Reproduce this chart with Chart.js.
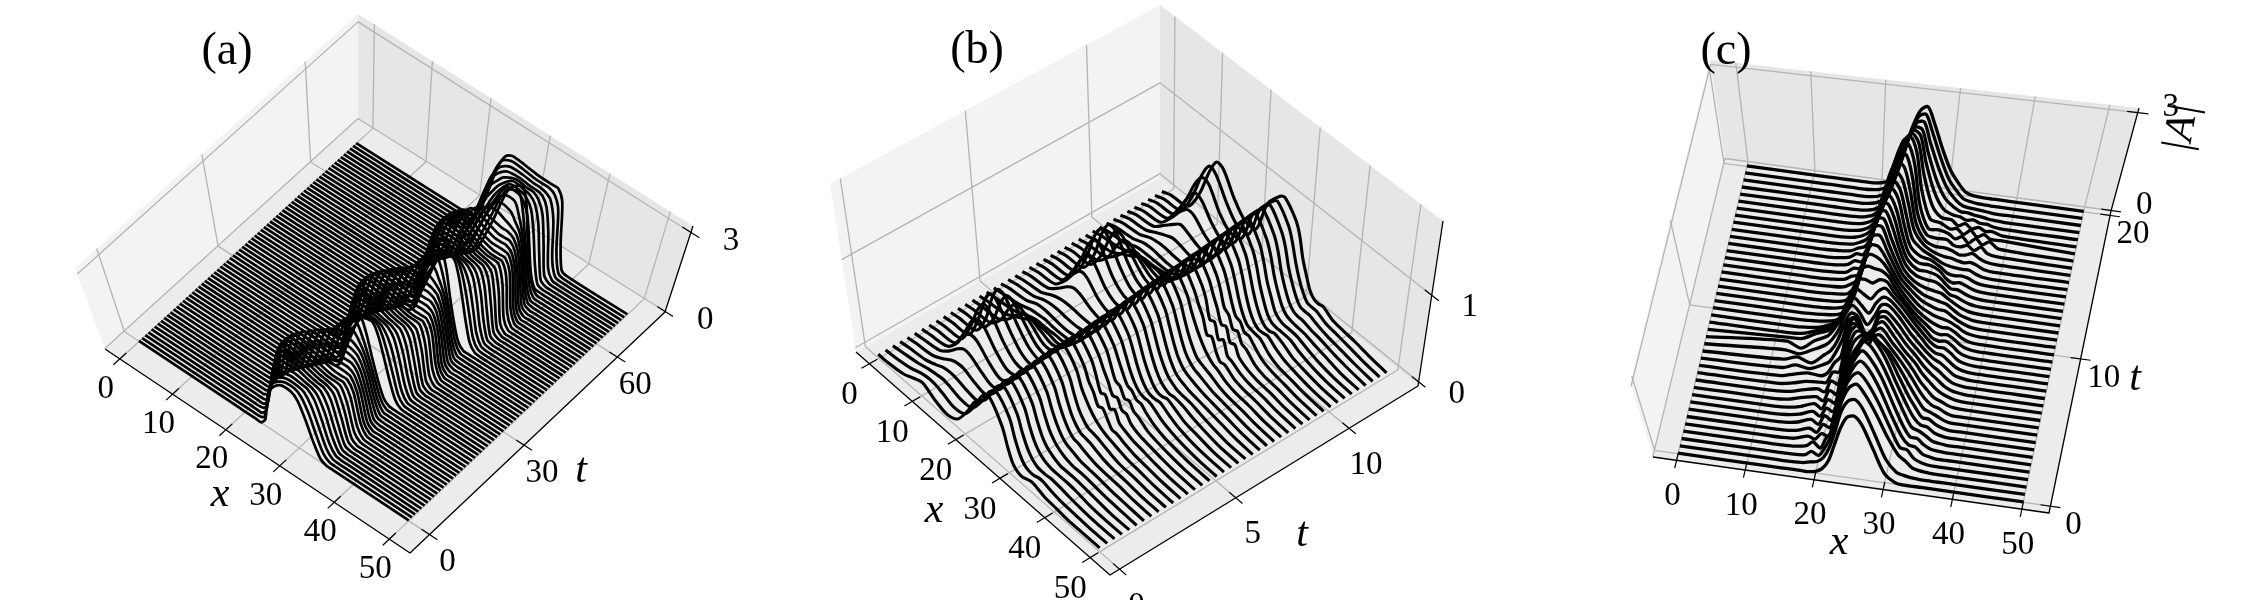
<!DOCTYPE html>
<html><head><meta charset="utf-8">
<style>html,body{margin:0;padding:0;background:#fff}canvas{display:block}</style>
<script src="https://cdn.jsdelivr.net/npm/chart.js@4/dist/chart.umd.min.js"></script>
</head><body><canvas id="c" width="2250" height="600"></canvas>
<script>
// Panel (a): |A| against x on per-period grids, one row per unit of t
const aGrid1=[19,20,21,22,23,24,25,26,28,30,31,32,33,34,35,36,37];
const aRows1=[
[0,0,0,0,0,.3,1.3,1.95,2.5,2.55,2.3,1.6,.75,.15,0,0,0],
[0,0,0,0,.1,.7,1.6,2.1,2.5,2.55,2.35,1.8,.95,.25,.02,0,0],
[0,0,0,0,.3,1.1,1.85,2.2,2.5,2.5,2.4,1.95,1.15,.35,.03,0,0],
[0,0,0,.1,.6,1.5,2.05,2.3,2.5,2.45,2.4,2.1,1.35,.45,.05,0,0],
[0,0,0,.2,1,1.8,2.2,2.4,2.5,2.4,2.35,2.15,1.55,.6,.06,0,0],
[0,0,.05,.5,1.4,2,2.35,2.45,2.5,2.35,2.3,2.2,1.7,.75,.08,0,0],
[0,0,.15,.9,1.75,2.2,2.45,2.5,2.45,2.3,2.25,2.2,1.85,.9,.1,0,0],
[0,.03,.35,1.3,2,2.35,2.5,2.5,2.4,2.25,2.2,2.15,1.95,1.1,.15,0,0],
[0,.05,.6,1.6,2.2,2.45,2.55,2.5,2.35,2.2,2.15,2.1,2,1.3,.2,0,0],
[0,.1,.8,1.8,2.3,2.5,2.55,2.5,2.3,2.15,2.1,2.1,2.05,1.45,.3,.02,0],
[0,.12,.85,1.8,2.3,2.5,2.5,2.45,2.25,2.1,2.05,2.05,2.05,1.6,.4,.03,0],
[0,.1,.75,1.7,2.25,2.5,2.5,2.45,2.25,2.1,2.05,2.05,2.05,1.65,.45,.03,0],
[0,.05,.55,1.45,2.1,2.45,2.5,2.45,2.25,2.1,2.1,2.1,2.05,1.55,.35,.02,0],
[0,.02,.35,1.1,1.85,2.35,2.5,2.5,2.3,2.15,2.15,2.15,2,1.4,.25,0,0],
[0,0,.2,.75,1.5,2.1,2.45,2.5,2.35,2.2,2.2,2.2,1.95,1.2,.18,0,0],
[0,0,.08,.45,1.1,1.8,2.3,2.5,2.4,2.3,2.3,2.2,1.85,1,.12,0,0],
[0,0,.03,.25,.75,1.45,2.05,2.4,2.5,2.4,2.35,2.2,1.7,.8,.08,0,0],
[0,0,0,.12,.45,1.05,1.75,2.25,2.55,2.5,2.4,2.15,1.5,.6,.05,0,0],
[0,0,0,.05,.25,.7,1.4,2,2.7,2.75,2.45,2,1.25,.42,.03,0,0],
[0,0,0,.02,.12,.45,1.05,1.7,2.75,2.95,2.5,1.8,1,.3,.02,0,0],
[0,0,0,0,.06,.3,.8,1.45,2.7,3.1,2.6,1.65,.8,.2,.01,0,0]];
const aGrid2=[20.5,21.5,22.5,23.5,24.5,25.5,26.5,27.5,29.5,31.5,32.5,33.5,34.5,35.5,36.5,37.5,38.5];
const aRows2=[
[0,0,0,0,.05,.3,.95,1.6,2.75,2.95,2.55,1.75,.9,.25,.02,0,0],
[0,0,0,0,.1,.6,1.35,1.9,2.7,2.8,2.5,1.85,1.05,.3,.03,0,0],
[0,0,0,0,.3,1.05,1.75,2.2,2.65,2.65,2.45,2,1.2,.38,.04,0,0],
[0,0,0,.1,.65,1.5,2.1,2.35,2.6,2.55,2.45,2.15,1.4,.5,.05,0,0],
[0,0,0,.25,1.05,1.85,2.25,2.45,2.55,2.45,2.4,2.2,1.6,.65,.07,0,0],
[0,0,.05,.55,1.45,2.05,2.4,2.5,2.55,2.4,2.35,2.25,1.75,.8,.09,0,0],
[0,0,.18,.95,1.8,2.25,2.5,2.55,2.5,2.35,2.3,2.25,1.9,1,.12,0,0],
[0,.04,.4,1.35,2.05,2.4,2.55,2.55,2.45,2.3,2.25,2.2,2,1.15,.17,0,0],
[0,.07,.65,1.65,2.25,2.5,2.6,2.55,2.4,2.25,2.2,2.15,2.05,1.35,.22,0,0],
[0,.12,.85,1.85,2.35,2.55,2.6,2.55,2.35,2.2,2.15,2.15,2.1,1.5,.32,.02,0],
[0,.14,.9,1.85,2.35,2.55,2.55,2.5,2.3,2.15,2.1,2.1,2.1,1.65,.42,.03,0],
[0,.1,.8,1.75,2.3,2.55,2.55,2.5,2.3,2.15,2.1,2.1,2.1,1.7,.48,.03,0],
[0,.06,.6,1.5,2.15,2.5,2.55,2.5,2.3,2.15,2.15,2.15,2.1,1.6,.38,.02,0],
[0,.02,.38,1.15,1.9,2.4,2.55,2.55,2.35,2.2,2.2,2.2,2.05,1.45,.27,0,0],
[0,0,.22,.8,1.55,2.15,2.5,2.55,2.4,2.25,2.25,2.25,2,1.25,.2,0,0],
[0,0,.09,.5,1.15,1.85,2.35,2.55,2.45,2.35,2.35,2.25,1.9,1.05,.13,0,0],
[0,0,.03,.27,.8,1.5,2.1,2.45,2.6,2.45,2.4,2.25,1.75,.85,.09,0,0],
[0,0,0,.13,.48,1.1,1.8,2.3,2.7,2.6,2.45,2.2,1.55,.62,.05,0,0],
[0,0,0,.06,.27,.75,1.45,2.05,2.85,2.85,2.5,2.05,1.3,.44,.03,0,0],
[0,0,0,.02,.13,.48,1.1,1.75,2.9,3.05,2.6,1.85,1.05,.32,.02,0,0],
[0,0,0,0,.07,.32,.85,1.5,2.85,3.2,2.7,1.7,.85,.22,.01,0,0]];
const aGrid3=[22,23,24,25,26,27,28,29,31,33,34,35,36,37,38,39,40];
const aRows3=[
[0,0,0,0,.05,.32,1,1.65,2.85,3.05,2.6,1.8,.95,.28,.03,0,0],
[0,0,0,0,.12,.65,1.4,1.95,2.8,2.9,2.55,1.9,1.1,.34,.04,0,0],
[0,0,0,0,.32,1.1,1.8,2.25,2.75,2.7,2.5,2.05,1.25,.42,.05,0,0],
[0,0,0,.1,.7,1.55,2.15,2.4,2.65,2.6,2.5,2.2,1.45,.55,.06,0,0],
[0,0,0,.27,1.1,1.9,2.3,2.5,2.6,2.5,2.45,2.25,1.65,.7,.08,0,0],
[0,0,.06,.6,1.5,2.1,2.45,2.55,2.6,2.45,2.4,2.3,1.8,.85,.1,0,0],
[0,0,.2,1,1.85,2.3,2.55,2.6,2.55,2.4,2.35,2.3,1.95,1.05,.14,0,0],
[0,.05,.42,1.4,2.1,2.45,2.6,2.6,2.5,2.35,2.3,2.25,2.05,1.2,.18,0,0],
[0,.08,.68,1.7,2.3,2.55,2.65,2.6,2.45,2.3,2.25,2.2,2.1,1.4,.25,0,0],
[0,.13,.88,1.9,2.4,2.6,2.65,2.6,2.4,2.25,2.2,2.2,2.15,1.55,.35,.02,0],
[0,.15,.92,1.9,2.4,2.6,2.6,2.55,2.35,2.2,2.15,2.15,2.15,1.7,.45,.03,0],
[0,.11,.82,1.8,2.35,2.6,2.6,2.55,2.35,2.2,2.15,2.15,2.15,1.75,.5,.04,0],
[0,.06,.62,1.55,2.2,2.55,2.6,2.55,2.35,2.2,2.2,2.2,2.15,1.65,.4,.02,0],
[0,.03,.4,1.2,1.95,2.45,2.6,2.6,2.4,2.25,2.25,2.25,2.1,1.5,.3,0,0],
[0,0,.24,.85,1.6,2.2,2.55,2.6,2.45,2.3,2.3,2.3,2.05,1.3,.22,0,0],
[0,0,.1,.52,1.2,1.9,2.4,2.6,2.5,2.4,2.4,2.3,1.95,1.1,.15,0,0],
[0,0,.04,.28,.85,1.55,2.15,2.5,2.7,2.55,2.45,2.3,1.8,.9,.1,0,0],
[0,0,0,.14,.5,1.15,1.85,2.35,2.85,2.8,2.55,2.25,1.6,.65,.06,0,0],
[0,0,0,.07,.28,.8,1.5,2.1,3,3.05,2.65,2.1,1.35,.46,.03,0,0],
[0,0,0,.03,.14,.5,1.15,1.8,3.05,3.25,2.75,1.9,1.1,.34,.02,0,0],
[0,0,0,0,.07,.34,.9,1.55,3,3.35,2.85,1.75,.9,.24,.01,0,0]];
const aGrid4=[21,22,23,24,25,26,27,28,30,32,33,34,35,36,37,38,39];
const aRows4=[
[0,0,0,.02,.2,.7,1.3,1.9,2.8,2.85,2.7,2.3,1.4,.5,.05,0,0],
[0,0,.03,.2,.6,1.15,1.7,2.2,2.8,2.8,2.7,2.4,1.65,.7,.08,0,0],
[0,0,.1,.45,1.05,1.65,2.05,2.4,2.8,2.75,2.7,2.5,1.95,.95,.12,0,0],
[0,.03,.2,.75,1.45,2,2.3,2.55,2.75,2.7,2.7,2.55,2.15,1.2,.2,.02,0],
[0,.05,.3,1,1.75,2.25,2.5,2.65,2.7,2.65,2.65,2.6,2.3,1.5,.35,.03,0],
[0,.05,.38,1.15,1.95,2.4,2.6,2.7,2.7,2.65,2.65,2.6,2.45,1.85,.55,.05,0],
[0,.05,.4,1.2,2.05,2.55,2.7,2.75,2.7,2.65,2.65,2.65,2.55,2.15,.75,.08,0],
[0,.05,.4,1.2,2.1,2.6,2.75,2.75,2.7,2.65,2.65,2.65,2.65,2.3,.95,.1,0]];

// Panel (b): one grid in x, 41 rows spaced evenly over t = 0..4π
const bGrid=[2,6,8.5,10.5,12,13.5,16,18.5,21,23,25.5,26.5,29,30,31,32,33,34,35,36,38,40,43,46];
const bRows=[
[0,.03,.09,.13,.09,.04,0,.06,.26,.46,.6,.68,.45,.25,.1,.05,.04,.06,.08,.07,.03,.02,0,0],
[.01,.05,.1,.12,.11,.08,.03,.07,.27,.48,.62,.68,.5,.3,.15,.07,.05,.05,.07,.07,.04,.02,.01,0],
[.02,.06,.1,.12,.13,.11,.07,.09,.28,.48,.62,.69,.5,.32,.18,.1,.06,.05,.05,.06,.05,.03,.01,0],
[.02,.05,.1,.15,.16,.15,.11,.11,.29,.49,.63,.7,.52,.34,.2,.12,.08,.06,.05,.05,.05,.04,.01,0],
[.02,.05,.12,.19,.22,.22,.16,.14,.3,.5,.64,.7,.53,.36,.22,.14,.1,.07,.05,.05,.05,.04,.02,0],
[.02,.06,.16,.27,.33,.32,.23,.18,.31,.5,.65,.71,.54,.38,.24,.16,.11,.08,.06,.05,.05,.04,.02,.01],
[.02,.06,.2,.38,.45,.44,.3,.22,.31,.51,.66,.72,.55,.39,.26,.17,.12,.1,.08,.06,.05,.04,.02,.01],
[.02,.05,.26,.48,.58,.56,.38,.27,.32,.51,.67,.73,.56,.4,.27,.18,.13,.12,.1,.08,.05,.04,.03,.01],
[.02,.05,.3,.57,.7,.67,.45,.32,.33,.52,.68,.74,.57,.41,.27,.19,.14,.13,.12,.1,.06,.04,.03,.01],
[.02,.05,.32,.63,.77,.74,.52,.36,.34,.53,.69,.75,.58,.42,.28,.2,.15,.14,.13,.11,.07,.04,.03,.01],
[.02,.05,.28,.61,.77,.76,.54,.38,.35,.54,.7,.76,.6,.44,.34,.26,.2,.16,.13,.11,.08,.05,.03,.01],
[.02,.04,.23,.5,.65,.65,.5,.36,.35,.54,.7,.76,.6,.46,.38,.26,.28,.2,.12,.12,.08,.05,.03,.01],
[.02,.04,.18,.38,.5,.52,.42,.32,.35,.55,.71,.77,.62,.48,.32,.34,.22,.26,.15,.12,.08,.06,.03,.01],
[.02,.04,.14,.27,.36,.38,.33,.28,.35,.55,.71,.78,.62,.5,.4,.28,.3,.2,.2,.13,.08,.06,.03,.01],
[.02,.05,.12,.18,.24,.26,.25,.23,.33,.56,.72,.78,.64,.5,.36,.34,.24,.26,.18,.16,.09,.06,.03,.01],
[.02,.05,.1,.15,.17,.17,.18,.19,.32,.56,.73,.79,.64,.52,.4,.3,.28,.22,.22,.17,.1,.06,.03,.01],
[.02,.06,.11,.13,.14,.13,.13,.16,.32,.57,.74,.8,.65,.52,.38,.28,.22,.2,.2,.18,.11,.07,.03,.01],
[.03,.06,.12,.13,.12,.11,.11,.16,.32,.58,.75,.81,.66,.53,.38,.27,.2,.17,.17,.18,.12,.07,.03,.01],
[.03,.06,.12,.14,.14,.13,.13,.17,.32,.59,.76,.82,.67,.53,.38,.27,.19,.15,.15,.17,.12,.07,.04,.01],
[.03,.06,.13,.17,.18,.18,.17,.19,.33,.59,.77,.83,.68,.54,.39,.27,.19,.15,.13,.14,.12,.08,.04,.01],
[.03,.06,.16,.26,.31,.3,.23,.21,.34,.6,.78,.84,.68,.54,.39,.28,.2,.16,.13,.12,.11,.08,.04,.01],
[.03,.06,.2,.36,.45,.44,.3,.25,.35,.61,.79,.85,.69,.55,.4,.28,.2,.16,.14,.12,.1,.08,.05,.02],
[.03,.06,.26,.47,.58,.56,.38,.3,.36,.62,.8,.86,.7,.55,.4,.28,.21,.17,.15,.13,.1,.08,.05,.02],
[.03,.06,.31,.58,.72,.69,.46,.35,.37,.63,.81,.87,.7,.56,.41,.29,.22,.18,.16,.14,.1,.08,.05,.02],
[.03,.06,.33,.65,.79,.76,.53,.38,.38,.64,.82,.88,.71,.56,.41,.3,.22,.19,.17,.15,.1,.07,.05,.02],
[.03,.06,.3,.63,.79,.78,.55,.4,.39,.65,.83,.89,.72,.58,.46,.36,.28,.22,.18,.16,.1,.07,.05,.02],
[.03,.05,.25,.52,.67,.67,.51,.39,.39,.66,.84,.9,.72,.6,.5,.34,.36,.24,.16,.17,.1,.07,.05,.02],
[.03,.05,.19,.4,.52,.54,.43,.35,.39,.66,.85,.91,.74,.62,.42,.44,.28,.32,.18,.16,.1,.07,.05,.02],
[.03,.05,.15,.28,.36,.39,.34,.31,.39,.67,.86,.92,.75,.62,.5,.36,.38,.24,.26,.16,.1,.07,.05,.02],
[.03,.05,.13,.19,.24,.26,.27,.26,.38,.68,.87,.93,.76,.63,.46,.42,.3,.32,.22,.2,.11,.07,.05,.02],
[.03,.06,.11,.15,.17,.17,.19,.22,.38,.68,.88,.94,.77,.64,.48,.36,.34,.26,.26,.21,.12,.08,.05,.02],
[.03,.06,.12,.13,.13,.13,.14,.2,.38,.69,.89,.95,.78,.64,.47,.34,.26,.24,.23,.22,.13,.08,.05,.02],
[.04,.07,.12,.13,.12,.11,.12,.2,.38,.7,.9,.96,.79,.65,.47,.33,.24,.2,.2,.21,.14,.09,.05,.02],
[.04,.07,.13,.15,.15,.14,.14,.2,.38,.71,.91,.97,.8,.65,.47,.33,.23,.18,.17,.19,.15,.09,.05,.02],
[.04,.07,.14,.19,.22,.21,.18,.22,.38,.72,.92,.98,.8,.66,.47,.33,.22,.17,.16,.16,.15,.1,.05,.02],
[.04,.07,.18,.27,.33,.31,.25,.24,.39,.73,.93,.99,.81,.66,.47,.34,.22,.17,.15,.15,.14,.1,.05,.02],
[.04,.07,.22,.37,.45,.44,.32,.27,.4,.74,.94,1,.81,.67,.48,.34,.23,.17,.15,.14,.13,.1,.06,.02],
[.04,.07,.27,.48,.59,.57,.4,.31,.41,.75,.95,1,.82,.68,.48,.34,.23,.17,.15,.15,.12,.1,.06,.03],
[.04,.07,.32,.59,.72,.7,.48,.36,.41,.76,.95,1,.82,.69,.49,.35,.24,.17,.16,.16,.12,.09,.06,.03],
[.04,.07,.33,.65,.8,.76,.54,.39,.41,.77,.96,1,.83,.69,.5,.35,.24,.17,.16,.16,.11,.09,.06,.03],
[.04,.07,.31,.63,.8,.78,.56,.41,.42,.78,.97,1,.85,.72,.5,.35,.22,.16,.15,.16,.1,.08,.06,.03]];

// Panel (c): one grid in x, 41 rows spaced evenly over t = 0..20
const cGrid=[12,14,16,18,19,20,21,22,23,24,25,26,27,28.5,30,31.5,32.5,33.5,34.5,35.5,36.5,37.5,39];
const cRows=[
[0,0,0,0,0,.05,.2,.55,1.2,1.9,2.4,2.5,2.2,1.25,.35,.05,0,0,0,0,0,0,0],
[0,0,0,.03,.1,.15,.35,.8,1.5,2.3,2.75,2.85,2.5,1.55,.6,.15,.08,.03,.01,0,0,0,0],
[0,0,0,.05,.22,.1,.45,.95,1.7,2.5,3,3.15,2.8,2.05,1.2,.55,.35,.12,.05,.02,0,0,0],
[0,0,.02,.12,.3,.1,.55,.85,1.8,2.6,3.1,3.3,3,2.25,1.35,.55,.5,.2,.08,.02,0,0,0],
[0,0,.04,.2,.12,.38,.3,1,1.7,2.6,3.15,3.45,3.2,2.45,1.5,.7,.4,.35,.12,.05,0,0,0],
[0,0,.06,.22,.1,.45,.35,1.1,1.8,2.6,3.2,3.55,3.3,2.6,1.65,.8,.42,.4,.18,.06,.02,0,0],
[0,.02,.1,.28,.12,.5,.35,1.15,1.9,2.6,3.15,3.6,3.4,2.7,1.8,.95,.5,.4,.25,.08,.03,0,0],
[0,.03,.12,.3,.15,.5,.4,1.2,2,2.7,3.15,3.55,3.4,2.75,1.85,1.05,.6,.35,.3,.12,.04,0,0],
[0,.03,.14,.32,.15,.55,.45,1.35,2.15,2.9,3.2,3.3,3.15,2.65,1.85,1.1,.7,.35,.32,.15,.05,0,0],
[0,.06,.2,.3,.18,.62,.5,1.5,2.4,3,3.05,2.9,2.75,2.4,1.8,1.15,.75,.4,.3,.18,.06,0,0],
[.02,.08,.22,.32,.24,.7,.6,1.7,2.65,2.95,2.6,2.6,2.7,2.25,1.75,1.2,.8,.48,.28,.2,.07,0,0],
[.03,.12,.25,.3,.32,.75,.8,1.9,2.7,2.6,2.15,2.5,2.65,2.15,1.7,1.2,.82,.55,.3,.2,.08,.02,0],
[.05,.18,.3,.26,.42,.82,1.1,2.1,2.6,2.2,1.7,2.45,2.6,2.1,1.6,1.2,.85,.6,.36,.2,.1,.03,0],
[.08,.25,.18,.4,.55,.95,1.45,2.2,2.35,1.75,1.6,2.4,2.5,2.05,1.55,1.15,.85,.62,.42,.22,.1,.04,0],
[.12,.28,.12,.5,.7,1.1,1.7,2.2,2.1,1.5,1.7,2.35,2.4,2,1.5,1.1,.85,.62,.46,.25,.1,.04,0],
[.2,.12,.34,.6,.85,1.25,1.85,2.2,1.95,1.55,1.9,2.35,2.35,1.95,1.45,1.05,.8,.6,.48,.3,.12,.05,0],
[.25,.06,.4,.65,.95,1.35,1.95,2.2,1.95,1.7,2.1,2.35,2.25,1.85,1.4,1,.72,.55,.5,.32,.14,.05,0],
[.12,.15,.4,.6,.9,1.3,1.9,2.25,2.1,1.95,2.25,2.4,2.15,1.75,1.3,.9,.65,.5,.5,.35,.15,.05,0],
[.02,.08,.25,.45,.7,1.1,1.75,2.3,2.35,2.25,2.4,2.35,2,1.6,1.15,.8,.55,.45,.48,.35,.15,.05,0],
[0,.03,.1,.3,.42,.9,1.5,2.35,2.55,2.5,2.45,2.25,1.85,1.4,1,.7,.5,.42,.45,.33,.15,.05,0],
[0,.02,.06,.15,.32,.65,1.3,2.2,2.7,2.65,2.45,2.1,1.7,1.25,.88,.62,.5,.42,.42,.3,.14,.04,0],
[0,.01,.04,.1,.22,.55,1.15,2.1,2.75,2.75,2.4,1.95,1.55,1.15,.8,.6,.5,.45,.38,.26,.12,.04,0],
[0,0,.02,.08,.18,.5,1.1,2,2.8,2.85,2.35,1.85,1.42,1.05,.75,.58,.5,.48,.34,.2,.1,.03,0],
[0,0,.02,.06,.15,.48,1.05,1.95,2.85,2.9,2.3,1.75,1.3,.95,.7,.58,.52,.46,.3,.16,.08,.02,0],
[0,0,.02,.06,.12,.42,1,1.9,2.85,2.9,2.3,1.7,1.2,.85,.68,.6,.55,.4,.26,.14,.06,.02,0],
[0,0,.02,.06,.18,.35,.95,1.85,2.8,2.9,2.35,1.65,1.12,.8,.7,.65,.5,.3,.24,.14,.06,.02,0],
[0,0,.02,.08,.22,.3,.9,1.85,2.75,2.9,2.4,1.6,1.05,.75,.72,.62,.42,.24,.24,.14,.06,.02,0],
[0,0,.02,.08,.24,.28,.85,1.8,2.7,2.9,2.45,1.6,1,.72,.7,.55,.32,.2,.24,.16,.07,.02,0],
[0,0,.02,.1,.26,.25,.8,1.75,2.65,2.9,2.55,1.65,.98,.7,.62,.42,.25,.2,.22,.18,.08,.02,0],
[0,0,.02,.1,.25,.25,.75,1.65,2.6,2.9,2.6,1.75,1,.68,.5,.32,.25,.22,.2,.2,.1,.03,0],
[0,0,.02,.08,.2,.28,.7,1.55,2.55,2.95,2.7,1.9,1.05,.6,.4,.3,.28,.22,.18,.22,.14,.04,0],
[0,0,.01,.06,.15,.28,.62,1.4,2.5,3,2.85,2.05,1.05,.5,.35,.34,.28,.18,.2,.28,.15,.06,.02],
[0,0,0,.05,.12,.26,.55,1.25,2.35,3,3,2.25,1.1,.45,.38,.38,.22,.2,.28,.14,.28,.1,.04],
[0,0,0,.04,.1,.22,.48,1.1,2.2,3,3.1,2.45,1.2,.42,.42,.34,.2,.3,.12,.3,.12,.25,.06],
[0,0,0,.03,.08,.18,.42,.95,2,2.9,3.1,2.6,1.4,.5,.42,.26,.3,.14,.3,.12,.22,.1,.1],
[0,0,0,.02,.06,.14,.35,.8,1.75,2.65,2.95,2.65,1.65,.7,.35,.32,.16,.26,.12,.2,.1,.12,.03],
[0,0,0,.01,.04,.1,.28,.65,1.5,2.35,2.8,2.65,1.8,.9,.4,.25,.22,.14,.18,.1,.1,.04,.01],
[0,0,0,0,.03,.08,.22,.55,1.3,2.15,2.65,2.6,1.9,1.05,.5,.25,.15,.15,.1,.08,.04,.02,0],
[0,0,0,0,.02,.06,.18,.48,1.15,2,2.55,2.6,2,1.2,.6,.25,.12,.08,.06,.04,.02,0,0],
[0,0,0,0,.02,.05,.15,.42,1.05,1.9,2.5,2.6,2.1,1.3,.65,.28,.1,.05,.02,.01,0,0,0],
[0,0,0,0,.01,.04,.12,.38,1,1.85,2.45,2.6,2.15,1.35,.7,.3,.1,.03,.01,0,0,0,0]];

// Tick labels for each axis
const xTicks=[0,10,20,30,40,50];
const aTTicks=[0,30,60], bTTicks=[0,5,10], cTTicks=[0,10,20];
const aZTicks=[0,3], bZTicks=[0,1], cZTicks=[0,3];

// Camera setup of each panel: projected box corners and axis ranges on the unit box
const panels={
 a:{floor:{L:[105,349],F:[410,553],R:[665,312],B:[358,119]},top:{L:[75,268],F:[410,492],R:[693,226],B:[358,14]},
    u:[.05,.934],v:[.075,.075+.01225*60],vT:60,w0:.005,wZ:.92/3,zT:aZTicks,tT:aTTicks,lw:2.7,
    xOff:[-14,30],tOff:[18,28],zOff:[40,9],
    title:['(a)',227,52],xLab:[220,495],tLab:[581,471]},
 b:{floor:{L:[856,352],F:[1110,575],R:[1418,386],B:[1160,178]},top:{L:[830,184],F:[1110,418],R:[1443,221],B:[1160,5]},
    u:[.055,.925],v:[.03,.03+.37*2],vT:10,w0:.025,wZ:.525,zT:bZTicks,tT:bTTicks,lw:3.1,
    xOff:[-20,32],tOff:[17,37],zOff:[38,12],
    title:['(b)',977,51],xLab:[934,511],tLab:[1302,535]},
 c:{floor:{L:[1653,457],F:[2049,513],R:[2111,211],B:[1725,159]},top:{L:[1630,383],F:[2060,430],R:[2139,108],B:[1710,60]},
    u:[.06,.932],v:[.022,.985],vT:20,w0:.005,wZ:.95/3,zT:cZTicks,tT:cTTicks,lw:3.3,
    xOff:[-4,36],tOff:[23,19],zOff:[33,-5],
    title:['(c)',1726,52],xLab:[1839,543],tLab:[2135,379]}
};

// Square-to-quad homography
function quadMap(q){
 const [x0,y0]=q.L,[x1,y1]=q.F,[x2,y2]=q.R,[x3,y3]=q.B;
 const dx1=x1-x2,dx2=x3-x2,sx=x0-x1+x2-x3,dy1=y1-y2,dy2=y3-y2,sy=y0-y1+y2-y3;
 const den=dx1*dy2-dx2*dy1,g=(sx*dy2-dx2*sy)/den,h=(dx1*sy-sx*dy1)/den;
 const a=x1-x0+g*x1,b=x3-x0+h*x3,d=y1-y0+g*y1,e=y3-y0+h*y3;
 return (u,v)=>{const k=g*u+h*v+1;return [(a*u+b*v+x0)/k,(d*u+e*v+y0)/k];};
}
for(const k in panels){const p=panels[k];p.f=quadMap(p.floor);p.t=quadMap(p.top);
 p.at=(u,v,w)=>{const A=p.f(u,v),B=p.t(u,v);return {x:A[0]+(B[0]-A[0])*w,y:A[1]+(B[1]-A[1])*w};};
 p.U=x=>p.u[0]+(p.u[1]-p.u[0])*x/50;
 p.V=t=>p.v[0]+(p.v[1]-p.v[0])*t/p.vT;
 p.W=z=>p.w0+p.wZ*z;
}

const datasets=[];
const seg=(pts,color,width,order,tension=0)=>datasets.push({data:pts,showLine:true,pointRadius:0,borderColor:color,borderWidth:width,order,tension,clip:false,borderJoinStyle:'round',borderCapStyle:'butt'});

// Waterfall slice: flat ends at x=0 and x=50 with the sampled profile between them
function slice(p,t,grid,row){
 const pts=[p.at(p.U(0),p.V(t),p.W(0))];
 grid.forEach((x,j)=>pts.push(p.at(p.U(x),p.V(t),p.W(row[j]))));
 pts.push(p.at(p.U(50),p.V(t),p.W(0)));
 seg(pts,'#000',p.lw,0,.3);
}
let ti=0;
[[aGrid1,aRows1],[aGrid2,aRows2],[aGrid3,aRows3],[aGrid4,aRows4]].forEach(([g,rs])=>rs.forEach(r=>slice(panels.a,ti++,g,r)));
bRows.forEach((r,i)=>slice(panels.b,i*4*Math.PI/40,bGrid,r));
cRows.forEach((r,i)=>slice(panels.c,i/2,cGrid,r));

// Grid lines and axes of each box
const GRID='#b4b4b4';
for(const k in panels){const p=panels[k];
 xTicks.forEach(x=>{const u=p.U(x);
  seg([p.at(u,0,0),p.at(u,1,0),p.at(u,1,1)],GRID,1.3,2);
  seg([p.at(u,-.025,0),p.at(u,.025,0)],'#000',1.2,1);});
 p.tT.forEach(t=>{const v=p.V(t);
  seg([p.at(1,v,0),p.at(0,v,0),p.at(0,v,1)],GRID,1.3,2);
  seg([p.at(.975,v,0),p.at(1.025,v,0)],'#000',1.2,1);});
 p.zT.forEach(z=>{const w=p.W(z);
  seg([p.at(0,0,w),p.at(0,1,w),p.at(1,1,w)],GRID,1.3,2);
  seg([p.at(.975,1,w),p.at(1.025,1,w)],'#000',1.2,1);});
 seg([p.at(0,0,0),p.at(1,0,0),p.at(1,1,0),p.at(1,1,1)],'#000',1.3,1);
}

const chartText=[];
for(const k in panels){const p=panels[k];
 xTicks.forEach(x=>{const a=p.at(p.U(x),0,0);chartText.push([String(x),a.x+p.xOff[0],a.y+p.xOff[1],33,'']);});
 p.tT.forEach(t=>{const a=p.at(1,p.V(t),0);chartText.push([String(t),a.x+p.tOff[0],a.y+p.tOff[1],33,'']);});
 p.zT.forEach(z=>{const a=p.at(1,1,p.W(z));chartText.push([String(z),a.x+p.zOff[0],a.y+p.zOff[1],33,'']);});
 chartText.push([p.title[0],p.title[1],p.title[2],46,'']);
 chartText.push(['x',p.xLab[0],p.xLab[1],42,'italic ']);
 chartText.push(['t',p.tLab[0],p.tLab[1],42,'italic ']);
}

// Pane fills behind the marks, all text in front of them
const boxPlugin={id:'box',
 beforeDatasetsDraw(ch){const c=ch.ctx,sx=ch.scales.x,sy=ch.scales.y;
  const poly=(pts,col)=>{c.beginPath();pts.forEach((q,i)=>{const X=sx.getPixelForValue(q.x),Y=sy.getPixelForValue(q.y);i?c.lineTo(X,Y):c.moveTo(X,Y);});c.closePath();c.fillStyle=col;c.fill();};
  for(const k in panels){const p=panels[k];
   poly([p.at(0,0,0),p.at(1,0,0),p.at(1,1,0),p.at(0,1,0)],'#ececec');
   poly([p.at(0,0,0),p.at(0,1,0),p.at(0,1,1),p.at(0,0,1)],'#f3f3f3');
   poly([p.at(0,1,0),p.at(1,1,0),p.at(1,1,1),p.at(0,1,1)],'#e6e6e6');
  }},
 afterDatasetsDraw(ch){const c=ch.ctx,sx=ch.scales.x,sy=ch.scales.y;
  c.save();c.fillStyle='#000';c.textAlign='center';c.textBaseline='middle';
  chartText.forEach(([s,X,Y,size,st])=>{c.font=st+size+'px "Liberation Serif"';c.fillText(s,sx.getPixelForValue(X),sy.getPixelForValue(Y));});
  c.translate(sx.getPixelForValue(2182),sy.getPixelForValue(128));c.rotate(-80*Math.PI/180);
  c.font='italic 42px "Liberation Serif"';c.fillText('|A|',0,0);
  c.restore();}
};

new Chart(document.getElementById('c'),{type:'scatter',data:{datasets},plugins:[boxPlugin],options:{
 responsive:false,animation:false,events:[],layout:{padding:0},
 plugins:{legend:{display:false},tooltip:{enabled:false}},
 scales:{x:{type:'linear',min:0,max:2250,display:false},y:{type:'linear',min:0,max:600,reverse:true,display:false}}
}});
</script></body></html>
